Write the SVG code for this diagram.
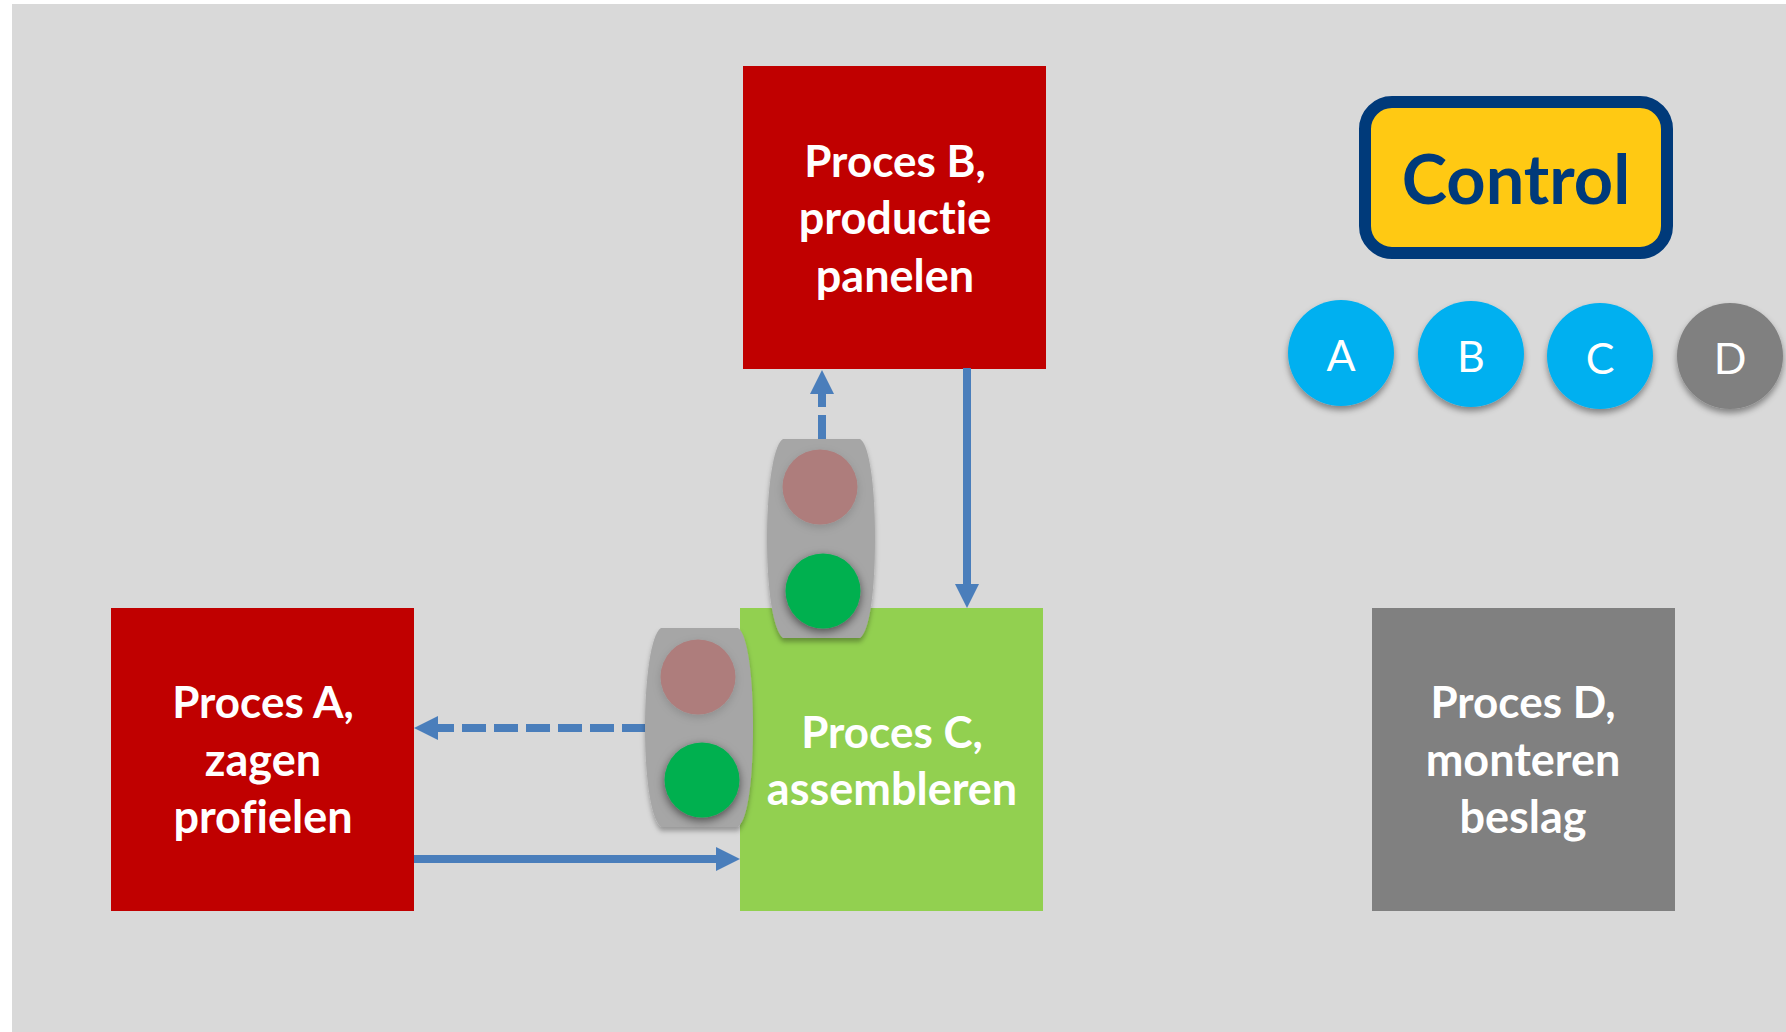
<svg xmlns="http://www.w3.org/2000/svg" width="1786" height="1032" viewBox="0 0 1786 1032">
<style>
text{font-family:"Lato","Carlito","Liberation Sans",sans-serif;text-anchor:middle;font-variant-ligatures:none}
.t{font-size:45px;font-weight:700;fill:#fff}
.p{font-size:44px}
.c{font-size:43px;fill:#fff}
.f{fill:none;stroke:#4a7ebb;stroke-width:8}
.d{stroke-dasharray:24 8}
.l{fill:#a6a6a6}
.r{fill:#ae7d7c}
.g{fill:#00b050}
</style>
<defs>
<marker id="ah" markerUnits="userSpaceOnUse" markerWidth="24" markerHeight="24" refX="0" refY="12" orient="auto"><path d="M0 0L24 12L0 24Z" fill="#4a7ebb"/></marker>
<filter id="sh" x="-25%" y="-25%" width="150%" height="150%"><feDropShadow dx="0" dy="4" stdDeviation="3" flood-color="#000" flood-opacity=".4"/></filter>
<filter id="sg" x="-30%" y="-30%" width="160%" height="160%"><feDropShadow dx="0" dy="3" stdDeviation="5" flood-color="#000" flood-opacity=".55"/></filter>
<filter id="sr" x="-30%" y="-30%" width="160%" height="160%"><feDropShadow dx="0" dy="3" stdDeviation="4" flood-color="#000" flood-opacity=".15"/></filter>
<filter id="sl" x="-20%" y="-20%" width="140%" height="140%"><feDropShadow dx="0" dy="4" stdDeviation="2.5" flood-color="#000" flood-opacity=".3"/></filter>
<path id="tl" d="M16 0H93C103 6 108 51 108 99C108 151 103 191 93 199H16C6 191 0 151 0 99C0 51 6 6 16 0Z"/>
</defs>
<rect width="1786" height="1032" fill="#fff"/>
<rect x="12" y="4" width="1774" height="1028" fill="#d9d9d9"/>
<g id="proces-a"><rect x="111" y="608" width="303" height="303" fill="#c00000"/><text class="t p" x="263" y="718">Proces A,</text><text class="t" x="263" y="776">zagen</text><text class="t" x="263" y="833">profielen</text></g>
<g id="proces-b"><rect x="743" y="66" width="303" height="303" fill="#c00000"/><text class="t p" x="895" y="177">Proces B,</text><text class="t" x="895" y="234">productie</text><text class="t" x="895" y="292">panelen</text></g>
<g id="proces-c"><rect x="740" y="608" width="303" height="303" fill="#92d050"/><text class="t p" x="892" y="748">Proces C,</text><text class="t" x="892" y="805">assembleren</text></g>
<g id="proces-d"><rect x="1372" y="608" width="303" height="303" fill="#808080"/><text class="t p" x="1523" y="718">Proces D,</text><text class="t" x="1523" y="776">monteren</text><text class="t" x="1523" y="833">beslag</text></g>
<g id="connectors">
<path class="f" d="M414 859H716" marker-end="url(#ah)"/>
<path class="f" d="M967 368V584" marker-end="url(#ah)"/>
<path class="f d" d="M646 728H438" marker-end="url(#ah)"/>
<path class="f d" d="M822 439V394" marker-end="url(#ah)"/>
</g>
<g id="light-1"><use href="#tl" class="l" x="767" y="439" filter="url(#sl)"/><circle class="r" cx="820" cy="487" r="37.5" filter="url(#sr)"/><circle class="g" cx="823" cy="591" r="37.5" filter="url(#sg)"/></g>
<g id="light-2"><use href="#tl" class="l" x="645" y="628" filter="url(#sl)"/><circle class="r" cx="698" cy="677" r="37.5" filter="url(#sr)"/><circle class="g" cx="702" cy="780" r="37.5" filter="url(#sg)"/></g>
<g id="control"><rect x="1365" y="102" width="302" height="151" rx="27" fill="#ffc913" stroke="#003a7a" stroke-width="12"/><text x="1516" y="204" font-size="68.5" font-weight="700" fill="#003a7a">Control</text></g>
<g id="a"><circle cx="1341" cy="353" r="53" fill="#00b0f0" filter="url(#sh)"/><text class="c" x="1341" y="371">A</text></g>
<g id="b"><circle cx="1471" cy="354" r="53" fill="#00b0f0" filter="url(#sh)"/><text class="c" x="1471" y="372">B</text></g>
<g id="c"><circle cx="1600" cy="356" r="53" fill="#00b0f0" filter="url(#sh)"/><text class="c" x="1600" y="374">C</text></g>
<g id="d"><circle cx="1730" cy="356" r="53" fill="#808080" filter="url(#sh)"/><text class="c" x="1730" y="374">D</text></g>
</svg>
